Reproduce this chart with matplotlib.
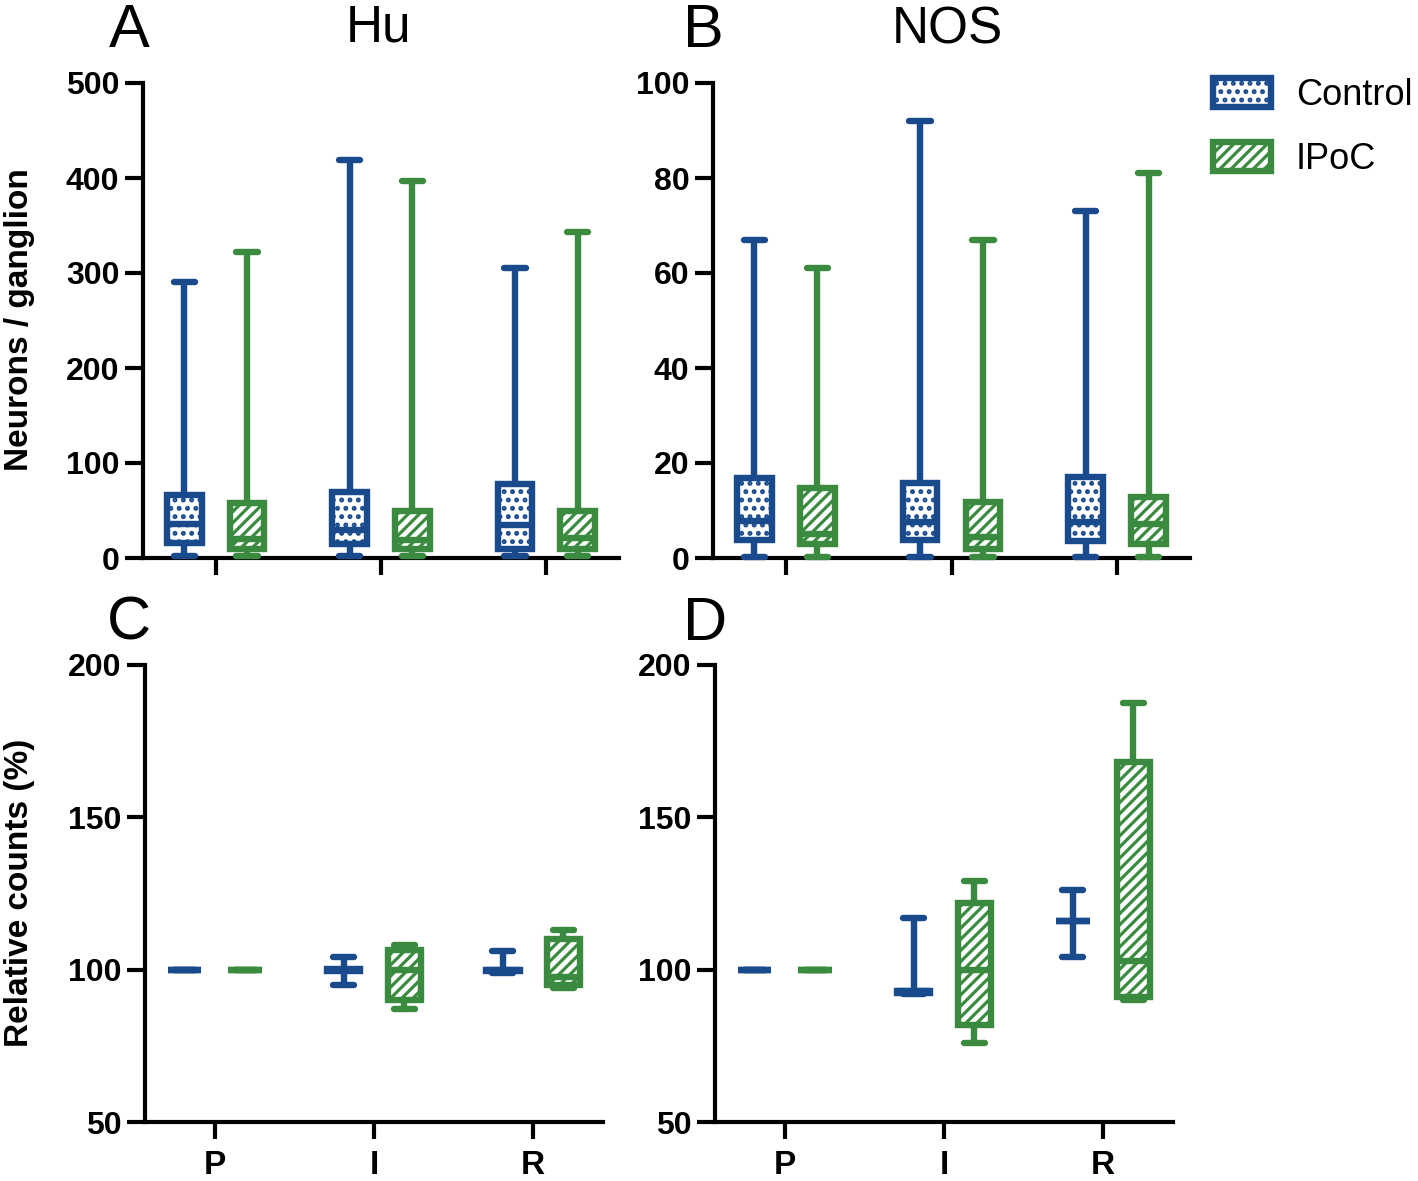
import matplotlib
matplotlib.use("Agg")
import matplotlib.pyplot as plt
from matplotlib.patches import Patch

# ---------------- data ----------------
groups = ["P", "I", "R"]
series = ["Control", "IPoC"]

# Panel A: Hu, neurons / ganglion
hu_ctrl_whislo = [2, 2, 2]
hu_ctrl_q1 = [16, 15, 10]
hu_ctrl_med = [36, 30, 35]
hu_ctrl_q3 = [66, 70, 78]
hu_ctrl_whishi = [291, 419, 305]

hu_ipoc_whislo = [2, 2, 2]
hu_ipoc_q1 = [9, 10, 10]
hu_ipoc_med = [20, 19, 21]
hu_ipoc_q3 = [58, 49, 49]
hu_ipoc_whishi = [322, 397, 343]

# Panel B: NOS, neurons / ganglion
nos_ctrl_whislo = [0.3, 0.3, 0.3]
nos_ctrl_q1 = [3.8, 3.8, 3.6]
nos_ctrl_med = [7.8, 7.6, 7.6]
nos_ctrl_q3 = [16.8, 15.8, 17.0]
nos_ctrl_whishi = [67, 92, 73]

nos_ipoc_whislo = [0.3, 0.3, 0.3]
nos_ipoc_q1 = [2.9, 1.9, 3.0]
nos_ipoc_med = [5.0, 4.5, 7.2]
nos_ipoc_q3 = [14.7, 11.8, 12.8]
nos_ipoc_whishi = [61, 67, 81]

# Panel C: Hu, relative counts (%)
rhu_ctrl_whislo = [100, 95, 99]
rhu_ctrl_q1 = [100, 99.7, 99.5]
rhu_ctrl_med = [100, 100, 100]
rhu_ctrl_q3 = [100, 100.3, 100]
rhu_ctrl_whishi = [100, 104, 106]

rhu_ipoc_whislo = [100, 87, 94]
rhu_ipoc_q1 = [100, 90, 95]
rhu_ipoc_med = [100, 100, 97.5]
rhu_ipoc_q3 = [100, 106.5, 110]
rhu_ipoc_whishi = [100, 108, 113]

# Panel D: NOS, relative counts (%)
rnos_ctrl_whislo = [100, 92, 104]
rnos_ctrl_q1 = [100, 92.5, 116]
rnos_ctrl_med = [100, 93, 116]
rnos_ctrl_q3 = [100, 93, 116]
rnos_ctrl_whishi = [100, 117, 126]

rnos_ipoc_whislo = [100, 76, 90]
rnos_ipoc_q1 = [100, 82, 91]
rnos_ipoc_med = [100, 100, 102.7]
rnos_ipoc_q3 = [100, 122, 168]
rnos_ipoc_whishi = [100, 129, 187.5]

# ---------------- style ----------------
BLUE = "#184A8C"
GREEN = "#3A8B40"
LW = 4.6
plt.rcParams["hatch.linewidth"] = 2.3
FONT = ["Liberation Sans", "DejaVu Sans"]
plt.rcParams["font.family"] = FONT

W, H = 1418, 1181
fig = plt.figure(figsize=(W / 100, H / 100), dpi=100)


def ax_px(l, t, r, b):
    return fig.add_axes([l / W, 1 - b / H, (r - l) / W, (b - t) / H])


def stats(whislo, q1, med, q3, whishi):
    return [dict(whislo=a, q1=b, med=c, q3=d, whishi=e, fliers=[])
            for a, b, c, d, e in zip(whislo, q1, med, q3, whishi)]


def draw(ax, ctrl, ipoc):
    for st, col, hatch, off in ((ctrl, BLUE, "..", -0.19), (ipoc, GREEN, "///", 0.19)):
        pos = [i + off for i in range(len(groups))]
        ax.bxp(st, positions=pos, widths=0.21, capwidths=0.13,
               patch_artist=True, showfliers=False, manage_ticks=False,
               boxprops=dict(facecolor="white", edgecolor=col, linewidth=LW, hatch=hatch),
               whiskerprops=dict(color=col, linewidth=LW, solid_capstyle="butt"),
               capprops=dict(color=col, linewidth=LW, solid_capstyle="round"),
               medianprops=dict(color=col, linewidth=LW, solid_capstyle="butt"),
               zorder=3)
    for art in ax.get_children():
        try:
            art.set_clip_on(False)
        except Exception:
            pass


def style(ax, ylim, yticks, show_xlabels):
    ax.set_xlim(-0.44, 2.44)
    ax.set_ylim(*ylim)
    ax.set_yticks(yticks)
    ax.set_xticks(range(len(groups)))
    ax.set_xticklabels(groups if show_xlabels else [])
    for s in ("top", "right"):
        ax.spines[s].set_visible(False)
    for s in ("left", "bottom"):
        ax.spines[s].set_linewidth(3)
        ax.spines[s].set_zorder(2)
    ax.tick_params(axis="y", length=13, width=3, pad=4, labelsize=23)
    ax.tick_params(axis="x", length=12, width=3, pad=8, labelsize=24)
    for lab in ax.get_yticklabels() + ax.get_xticklabels():
        lab.set_fontweight("bold")


axA = ax_px(143, 83, 619, 558)
axB = ax_px(713, 83, 1190, 558)
axC = ax_px(145, 665, 603, 1122)
axD = ax_px(715, 665, 1173, 1122)

draw(axA, stats(hu_ctrl_whislo, hu_ctrl_q1, hu_ctrl_med, hu_ctrl_q3, hu_ctrl_whishi),
     stats(hu_ipoc_whislo, hu_ipoc_q1, hu_ipoc_med, hu_ipoc_q3, hu_ipoc_whishi))
draw(axB, stats(nos_ctrl_whislo, nos_ctrl_q1, nos_ctrl_med, nos_ctrl_q3, nos_ctrl_whishi),
     stats(nos_ipoc_whislo, nos_ipoc_q1, nos_ipoc_med, nos_ipoc_q3, nos_ipoc_whishi))
draw(axC, stats(rhu_ctrl_whislo, rhu_ctrl_q1, rhu_ctrl_med, rhu_ctrl_q3, rhu_ctrl_whishi),
     stats(rhu_ipoc_whislo, rhu_ipoc_q1, rhu_ipoc_med, rhu_ipoc_q3, rhu_ipoc_whishi))
draw(axD, stats(rnos_ctrl_whislo, rnos_ctrl_q1, rnos_ctrl_med, rnos_ctrl_q3, rnos_ctrl_whishi),
     stats(rnos_ipoc_whislo, rnos_ipoc_q1, rnos_ipoc_med, rnos_ipoc_q3, rnos_ipoc_whishi))

style(axA, (0, 500), [0, 100, 200, 300, 400, 500], False)
style(axB, (0, 100), [0, 20, 40, 60, 80, 100], False)
style(axC, (50, 200), [50, 100, 150, 200], True)
style(axD, (50, 200), [50, 100, 150, 200], True)

# axis labels
fig.text(20 / W, 1 - 320 / H, "Neurons / ganglion", rotation=90, ha="center",
         va="center", fontsize=24, fontweight="bold")
fig.text(20 / W, 1 - 893 / H, "Relative counts (%)", rotation=90, ha="center",
         va="center", fontsize=24, fontweight="bold")

# panel letters and titles (placed by baseline)
for x, y, t in ((129, 47, "A"), (703, 47, "B")):
    fig.text(x / W, 1 - y / H, t, ha="center", va="baseline", fontsize=44)
for x, y, t in ((129, 640, "C"), (705, 640, "D")):
    fig.text(x / W, 1 - y / H, t, ha="center", va="baseline", fontsize=44)
for x, y, t in ((379, 42, "Hu"), (947, 44, "NOS")):
    fig.text(x / W, 1 - y / H, t, ha="center", va="baseline", fontsize=37)

# legend
handles = [Patch(facecolor="white", edgecolor=BLUE, hatch="..", linewidth=LW),
           Patch(facecolor="white", edgecolor=GREEN, hatch="///", linewidth=LW)]
fig.legend(handles=handles, labels=series, loc="upper left",
           bbox_to_anchor=(1213 / W, 1 - 78 / H), frameon=False, fontsize=26,
           handlelength=1.6, handleheight=0.85, handletextpad=0.7,
           labelspacing=0.8, borderpad=0, borderaxespad=0)

fig.savefig("out.png", dpi=100)
